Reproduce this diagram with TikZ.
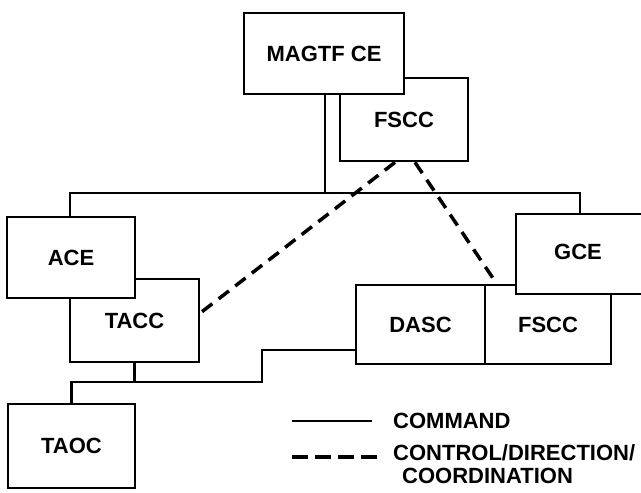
\documentclass[tikz,border=0pt]{standalone}
\usepackage{fontspec}
\setmainfont{Liberation Sans}
\begin{document}
\begin{tikzpicture}[x=1pt,y=-1pt,
  box/.style={draw=black,fill=white,line width=2.7pt,inner sep=0pt,font=\fontsize{22}{26}\selectfont\bfseries},
  cmd/.style={line width=2.7pt},
  ctl/.style={line width=3.5pt,dash pattern=on 13pt off 8pt},
  legctl/.style={line width=3.5pt,dash pattern=on 16pt off 7pt},
  lbl/.style={inner sep=0pt,anchor=west,font=\fontsize{22}{26}\selectfont\bfseries}]
\useasboundingbox (0,0) rectangle (641,493);
\clip (0,0) rectangle (641,493);
% connector points
\coordinate (busL) at (70,193);
\coordinate (busR) at (580,193);
\coordinate (j) at (134.5,382);
\coordinate (s1) at (262,382);
\coordinate (s2) at (262,350);
% nodes (back boxes first)
\node[box,minimum width=128pt,minimum height=83pt] (fscc1) at (404,119.5) {FSCC};
\node[box,minimum width=160pt,minimum height=81pt] (magtf) at (324,53.5) {MAGTF CE};
\node[box,minimum width=129pt,minimum height=83pt] (tacc) at (134.5,320.5) {TACC};
\node[box,minimum width=128pt,minimum height=81pt] (ace) at (71,257.5) {ACE};
\node[box,minimum width=127pt,minimum height=84pt] (taoc) at (71.5,446) {TAOC};
\node[box,minimum width=126pt,minimum height=79pt] (fscc2) at (548,324.5) {FSCC};
\node[box,minimum width=129pt,minimum height=79pt] (dasc) at (420.5,324.5) {DASC};
\node[box,minimum width=134pt,minimum height=80pt] (gce) at (583,254) {};
\node[lbl,anchor=center] (gcetext) at (578,252) {GCE};
% command connectors
\draw[cmd] (magtf.south -| 325,0) -- (busL -| 325,0);
\draw[cmd] (ace.north -| busL) -- (busL) -- (busR) -- (busR |- gce.north);
\draw[cmd] (tacc.south) -- (j);
\draw[cmd] (taoc.north) -- (taoc.north |- j) -- (j) -- (s1) -- (s2) -- (s2 -| dasc.west);
% control connectors
\draw[ctl] ([xshift=-9pt]fscc1.south) -- ([yshift=7.5pt]tacc.east);
\draw[ctl] ([xshift=11pt]fscc1.south) -- ([xshift=13pt]fscc2.north west);
% legend
\coordinate (l1a) at (292,421);
\coordinate (l1b) at (372,421);
\coordinate (l2a) at (292,457);
\coordinate (l2b) at (377,457);
\draw[cmd] (l1a) -- (l1b);
\draw[legctl] (l2a) -- (l2b);
\node[lbl] (t1) at (393,421) {COMMAND};
\node[lbl] (t2) at (393,453) {CONTROL/DIRECTION/};
\node[lbl] (t3) at (402,476) {COORDINATION};
\end{tikzpicture}
\end{document}
